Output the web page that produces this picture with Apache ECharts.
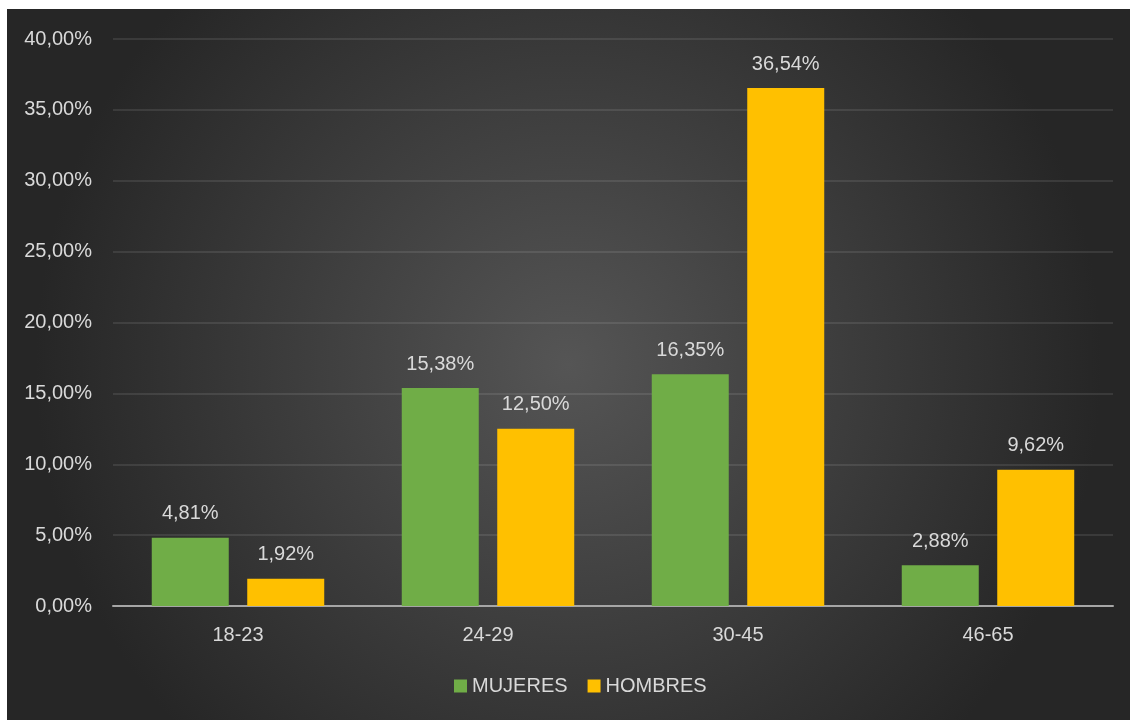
<!DOCTYPE html>
<html>
<head>
<meta charset="utf-8">
<script src="https://cdn.jsdelivr.net/npm/echarts@6/dist/echarts.min.js"></script>
<style>
  html, body { margin: 0; padding: 0; background: #fff; }
  #chart { width: 1130px; height: 720px; }
</style>
</head>
<body>
<div id="chart"></div>
<script>
// datos
const categories = ['18-23', '24-29', '30-45', '46-65'];
const mujeres = [4.81, 15.38, 16.35, 2.88];
const hombres = [1.92, 12.50, 36.54, 9.62];
const seriesNames = ['MUJERES', 'HOMBRES'];

const fmt = (v) => v.toFixed(2).replace('.', ',') + '%';
const font = '"Liberation Sans", Arial, sans-serif';
const textColor = '#d9d9d9';
const fs = 20;

const myChart = echarts.init(document.getElementById('chart'));
myChart.setOption({
  backgroundColor: '#ffffff',
  color: ['#70ad47', '#ffc000'],
  textStyle: { fontFamily: font },
  graphic: [{
    type: 'rect',
    z: -10,
    shape: { x: 7, y: 9, width: 1123, height: 711 },
    style: {
      fill: new echarts.graphic.RadialGradient(0.5, 0.5, 0.75, [
        { offset: 0, color: '#555555' },
        { offset: 1, color: '#262626' }
      ])
    },
    silent: true
  }],
  legend: {
    bottom: 19,
    left: 449,
    itemWidth: 13,
    itemHeight: 13,
    itemGap: 20,
    icon: 'rect',
    textStyle: { color: textColor, fontSize: fs, fontFamily: font },
    data: seriesNames
  },
  grid: { left: 113, right: 17, top: 39, bottom: 114, containLabel: false },
  xAxis: {
    type: 'category',
    data: categories,
    axisTick: { show: false },
    axisLine: { lineStyle: { color: '#a6a6a6', width: 2 } },
    axisLabel: { color: textColor, fontSize: fs, margin: 19, fontFamily: font }
  },
  yAxis: {
    type: 'value',
    min: 0,
    max: 40,
    interval: 5,
    axisLine: { show: false },
    axisTick: { show: false },
    splitLine: { lineStyle: { color: 'rgba(255,255,255,0.13)', width: 1.5 } },
    axisLabel: { color: textColor, fontSize: fs, margin: 21, fontFamily: font, formatter: fmt }
  },
  series: [
    {
      name: seriesNames[0],
      type: 'bar',
      data: mujeres,
      barWidth: 77,
      barGap: '24%',
      label: { show: true, position: 'top', distance: 14, color: textColor, fontSize: fs, fontFamily: font, formatter: (p) => fmt(p.value) }
    },
    {
      name: seriesNames[1],
      type: 'bar',
      data: hombres,
      barWidth: 77,
      label: { show: true, position: 'top', distance: 14, color: textColor, fontSize: fs, fontFamily: font, formatter: (p) => fmt(p.value) }
    }
  ]
});
</script>
</body>
</html>
